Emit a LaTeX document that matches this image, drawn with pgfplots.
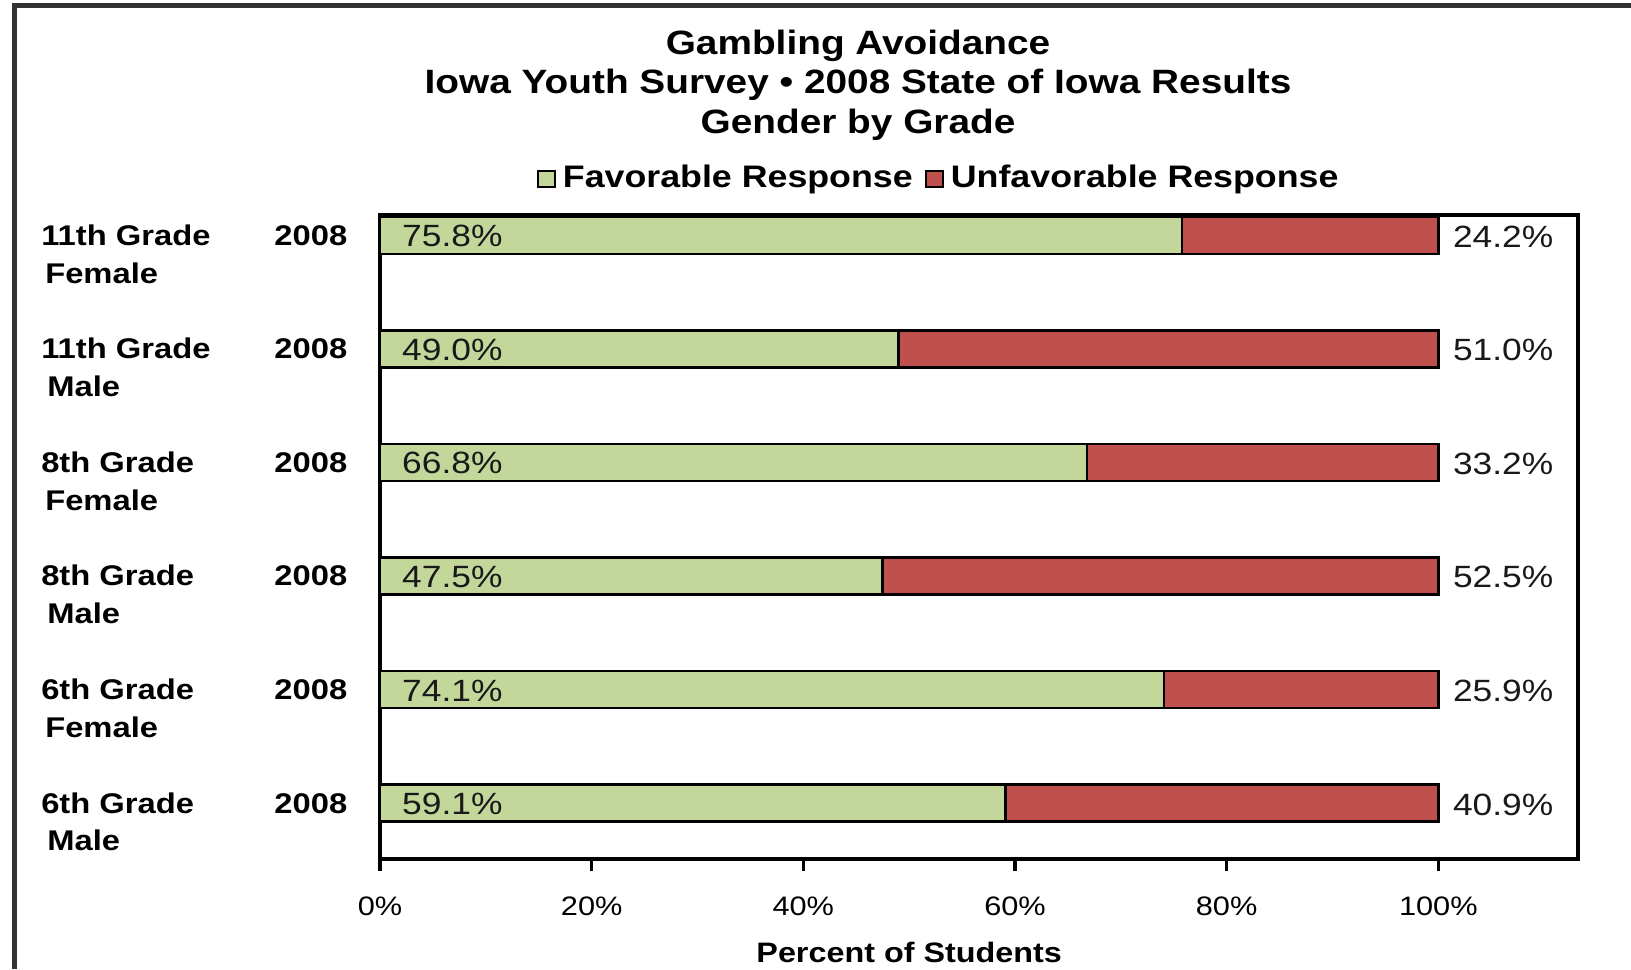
\documentclass[border=0pt]{standalone}
\usepackage{pgfplots}
\pgfplotsset{compat=1.18}
\usepackage{pgfplotstable}
\usepackage{fontspec}
\setmainfont{Liberation Sans}[FakeStretch=1.15]
\definecolor{favgreen}{RGB}{196,215,155}
\definecolor{unfred}{RGB}{192,80,77}
\definecolor{framegray}{RGB}{50,50,50}
\pgfplotsset{/pgf/number format/assume math mode=true}

\pgfplotstableread{
y fav unf
5 75.8 24.2
4 49.0 51.0
3 66.8 33.2
2 47.5 52.5
1 74.1 25.9
0 59.1 40.9
}\surveydata

\newcommand{\glab}[3]{\makebox[3.06cm][l]{\rlap{\raisebox{-0.377cm}[0pt][0pt]{\hspace{#3}#2}}#1\hfill 2008}}

\begin{document}
\begin{tikzpicture}
\useasboundingbox (0,0) rectangle (16.31,9.69);
% outer frame (top and left edges)
\draw[line width=0.045cm, framegray] (0.147,0) -- (0.147,9.637) -- (16.31,9.637);
% title
\node[anchor=base, font=\bfseries\fontsize{9.6}{11}\selectfont, inner sep=0pt] at (8.58,9.147) {Gambling Avoidance};
\node[anchor=base, font=\bfseries\fontsize{9.6}{11}\selectfont, inner sep=0pt] at (8.58,8.75) {Iowa Youth Survey • 2008 State of Iowa Results};
\node[anchor=base, font=\bfseries\fontsize{9.6}{11}\selectfont, inner sep=0pt] at (8.58,8.357) {Gender by Grade};

\begin{axis}[
  at={(3.80cm,1.10cm)}, anchor=south west,
  scale only axis, width=11.98cm, height=6.44cm,
  xbar stacked, bar width=0.37cm,
  xmin=0, xmax=113.2, ymin=-0.493, ymax=5.18,
  axis line style={black, line width=0.9pt},
  xtick={0,20,40,60,80,100},
  xticklabels={0\%,20\%,40\%,60\%,80\%,100\%},
  tick align=outside, major tick length=0.12cm,
  x tick style={black, line width=0.9pt},
  xtick pos=bottom,
  x tick label style={anchor=base, inner sep=0pt, yshift=-0.44cm, font=\fontsize{7.6}{9}\selectfont},
  ytick={0,1,2,3,4,5},
  y tick style={draw=none},
  ytick pos=left,
  yticklabels={
    {\glab{6th Grade}{Male}{0.06cm}},
    {\glab{6th Grade}{Female}{0.04cm}},
    {\glab{8th Grade}{Male}{0.06cm}},
    {\glab{8th Grade}{Female}{0.04cm}},
    {\glab{11th Grade}{Male}{0.06cm}},
    {\glab{11th Grade}{Female}{0.04cm}}},
  y tick label style={anchor=base east, inner sep=0pt, xshift=-0.2cm, yshift=-0.10cm, font=\bfseries\fontsize{8.1}{9}\selectfont},
  xlabel={Percent of Students},
  xlabel style={at={(axis description cs:0.4417,0)}, anchor=base, inner sep=0pt, yshift=-1.03cm, font=\bfseries\fontsize{8.0}{9}\selectfont},
  legend style={at={(axis description cs:0.1303,1.056)}, anchor=west, draw=none, fill=none, inner sep=0pt,
    legend columns=2, font=\bfseries\fontsize{8.85}{10}\selectfont,
    /tikz/every odd column/.append style={column sep=0.07cm},
    /tikz/every even column/.append style={column sep=0.12cm},
    nodes={inner sep=0pt}},
  legend image code/.code={\draw[#1, draw=black, line width=0.6pt] (0cm,-0.08cm) rectangle (0.17cm,0.08cm);},
]
\addplot[fill=favgreen, draw=black, line width=0.7pt] table[x=fav, y=y] {\surveydata};
\addplot[fill=unfred, draw=black, line width=0.7pt] table[x=unf, y=y] {\surveydata};
\legend{Favorable Response, Unfavorable Response}
\end{axis}

% overlay axis carrying the value labels
\begin{axis}[
  at={(3.80cm,1.10cm)}, anchor=south west,
  scale only axis, width=11.98cm, height=6.44cm,
  xmin=0, xmax=113.2, ymin=-0.493, ymax=5.18,
  hide axis,
  nodes near coords={\pgfmathprintnumber[fixed,fixed zerofill,precision=1]{\pgfplotspointmeta}\%},
  point meta=explicit,
  every node near coord/.append style={font=\fontsize{8.75}{10}\selectfont, text=black!90, inner sep=0pt, anchor=base west},
]
\addplot[draw=none, nodes near coords style={xshift=0.215cm, yshift=-0.115cm}] table[x expr=0, y=y, meta=fav] {\surveydata};
\addplot[draw=none, nodes near coords style={xshift=0.14cm, yshift=-0.12cm}] table[x expr=100, y=y, meta=unf] {\surveydata};
\end{axis}
\end{tikzpicture}
\end{document}
